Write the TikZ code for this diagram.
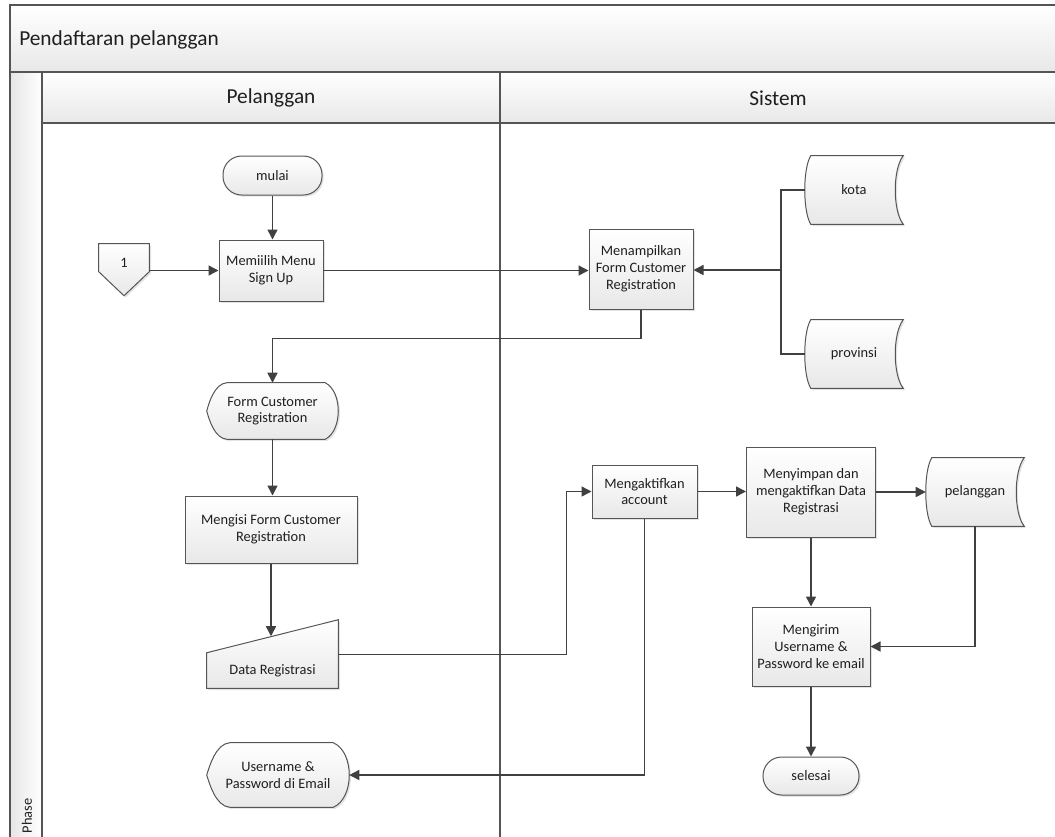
\documentclass[tikz,border=0pt]{standalone}
\usepackage{fontspec}
\setmainfont{Carlito}
\usetikzlibrary{arrows.meta,calc,shadows,backgrounds}

\definecolor{edge}{RGB}{85,85,85}
\definecolor{wire}{RGB}{64,64,64}
\definecolor{band}{RGB}{232,232,232}
\definecolor{boxbot}{RGB}{232,232,232}

\tikzset{
  txt/.style={font=\fontsize{10.8}{12.6}\selectfont, align=center, text=black!88, inner sep=0pt},
  frame/.style={draw=edge, line width=1pt},
  shp/.style={draw=edge, line width=0.75pt, top color=white, bottom color=boxbot,
    drop shadow={shadow xshift=1.3pt, shadow yshift=-1.3pt, opacity=0.22}},
  proc/.style={txt, shp, rectangle},
  term/.style={txt, shp, rectangle, rounded corners=14pt},
  bare/.style={txt, rectangle, draw=none},
  conn/.style={draw=wire, line width=1.1pt},
  arr/.style={conn, -{Triangle[length=7.5pt,width=7.5pt]}},
  lanehead/.style={font=\fontsize{16}{19}\selectfont, text=black!88, inner sep=0pt}
}

% stored-data outline: concave right side, bulging left side
\newcommand\storedshape[1]{%
  \path[shp] ($(#1.north west)+(6,0)$) -- (#1.north east)
    .. controls ($(#1.north east)+(-10.7,13)$) and ($(#1.south east)+(-10.7,-13)$) .. (#1.south east)
    -- ($(#1.south west)+(6,0)$)
    .. controls ($(#1.south west)+(-2,-13)$) and ($(#1.north west)+(-2,13)$) .. ($(#1.north west)+(6,0)$)
    -- cycle;}

% display outline: pointed left side, rounded right side
\newcommand\displayshape[3]{%
  \path[shp] ($(#1.north west)+(#2,0)$) -- ($(#1.north east)+(-#3,0)$)
    .. controls ($(#1.north east)+(#3/3,9)$) and ($(#1.south east)+(#3/3,-9)$) .. ($(#1.south east)+(-#3,0)$)
    -- ($(#1.south west)+(#2,0)$)
    .. controls ($(#1.south west)+(0.4*#2,-1)$) and ($(#1.west)+(0.12*#2,9)$) .. (#1.west)
    .. controls ($(#1.west)+(0.12*#2,-9)$) and ($(#1.north west)+(0.4*#2,1)$) .. ($(#1.north west)+(#2,0)$)
    -- cycle;}

\begin{document}
\begin{tikzpicture}[x=0.75pt,y=-0.75pt]
\useasboundingbox (0,0) rectangle (1055,836);
\clip (0,0) rectangle (1055,836);

% ---- pool, lanes and phase column
\fill[top color=white, bottom color=band] (10,5) rectangle (1070,72);
\fill[left color=band!90!black!8!band, right color=white] (10,72) rectangle (42,850);
\fill[top color=white, bottom color=band] (42,72) rectangle (1070,123);
\draw[frame] (1070,5) -- (10,5) -- (10,850);
\draw[frame] (10,72) -- (1070,72);
\draw[frame] (42,123) -- (1070,123);
\draw[frame] (42,72) -- (42,850);
\draw[frame] (500,72) -- (500,850);

\node[lanehead, anchor=west] (title) at (19,40) {Pendaftaran pelanggan};
\node[lanehead] (lanePel) at (271,98) {Pelanggan};
\node[lanehead] (laneSis) at (778,98) {Sistem};
\node[txt, rotate=90] (phase) at (27,816) {Phase};

% ---- Pelanggan lane
\node[term, minimum width=74.25pt, minimum height=29.25pt] (mulai) at (272.5,175.5) {mulai};
\node[proc, minimum width=78pt, minimum height=45.75pt] (mem) at (271,270.5) {Memiilih Menu\\Sign Up};
\node[bare, minimum width=37.5pt, minimum height=28.5pt] (c1) at (124,263) {1};
\node[bare, minimum width=98.25pt, minimum height=42pt] (form) at (272.5,411) {Form Customer\\Registration};
\node[proc, minimum width=129pt, minimum height=50.25pt] (isi) at (271,529.5) {Mengisi Form Customer\\Registration};
\node[bare, minimum width=98.25pt, minimum height=26.25pt] (data) at (272.5,670.5) {Data Registrasi};
\node[bare, minimum width=106.5pt, minimum height=48pt] (user) at (278,775) {Username \&\\Password di Email};

% ---- Sistem lane
\node[proc, minimum width=78pt, minimum height=60pt] (tampil) at (641,269) {Menampilkan\\Form Customer\\Registration};
\node[bare, minimum width=73.5pt, minimum height=51pt] (kota) at (854,190) {kota};
\node[bare, minimum width=73.5pt, minimum height=51pt] (prov) at (854,354) {provinsi};
\node[proc, minimum width=78.75pt, minimum height=39.75pt] (aktif) at (644.5,491.5) {Mengaktifkan\\account};
\node[proc, minimum width=96.75pt, minimum height=67.5pt] (simpan) at (811,492) {Menyimpan dan\\mengaktifkan Data\\Registrasi};
\node[bare, minimum width=73.5pt, minimum height=51pt] (pel) at (975,492) {pelanggan};
\node[proc, minimum width=88.5pt, minimum height=59.25pt] (kirim) at (811,646.5) {Mengirim\\Username \&\\Password ke email};
\node[term, minimum width=72pt, minimum height=28.5pt] (selesai) at (811,776) {selesai};

% ---- outlines of the special symbols
\begin{scope}[on background layer]
  \path[shp] (c1.north west) -- (c1.north east) -- ($(c1.north east)+(0,28)$)
    -- ($(c1.north)+(0,52)$) -- ($(c1.north west)+(0,28)$) -- cycle;
  \displayshape{form}{20}{13}
  \displayshape{user}{23}{16}
  \path[shp] (data.north west) -- ($(data.north east)+(0,-33)$) -- (data.south east)
    -- (data.south west) -- cycle;
  \storedshape{kota}
  \storedshape{prov}
  \storedshape{pel}
\end{scope}

% ---- connectors
\coordinate (join) at (781,270);
\coordinate (dtop) at ($(data.north west)!0.5!($(data.north east)+(0,-33)$)$);

\draw[arr] (mulai.south) -- (mulai.south |- mem.north);
\draw[arr] (c1.east |- mem.west) -- (mem.west);
\draw[arr] (mem.east) -- (mem.east -| tampil.west);
\draw[conn] (kota.west) -- (kota.west -| join) -- (prov.west -| join) -- (prov.west);
\draw[arr] (join) -- (join -| tampil.east);
\draw[arr] (tampil.south) -- ++(0,29) -| (form.north);
\draw[arr] (form.south) -- (form.south |- isi.north);
\draw[arr] (isi.south) -- (isi.south |- dtop);
\draw[arr] ($(data.east)+(0,-16)$) -| ($(aktif.west)+(-25,0)$) -- (aktif.west);
\draw[arr] (aktif.east) -- (aktif.east -| simpan.west);
\draw[arr] (simpan.east) -- (simpan.east -| pel.west);
\draw[arr] (pel.south) |- (kirim.east);
\draw[arr] (simpan.south) -- (kirim.north);
\draw[arr] (kirim.south) -- (selesai.north);
\draw[arr] (aktif.south) |- (user.east);
\end{tikzpicture}
\end{document}
